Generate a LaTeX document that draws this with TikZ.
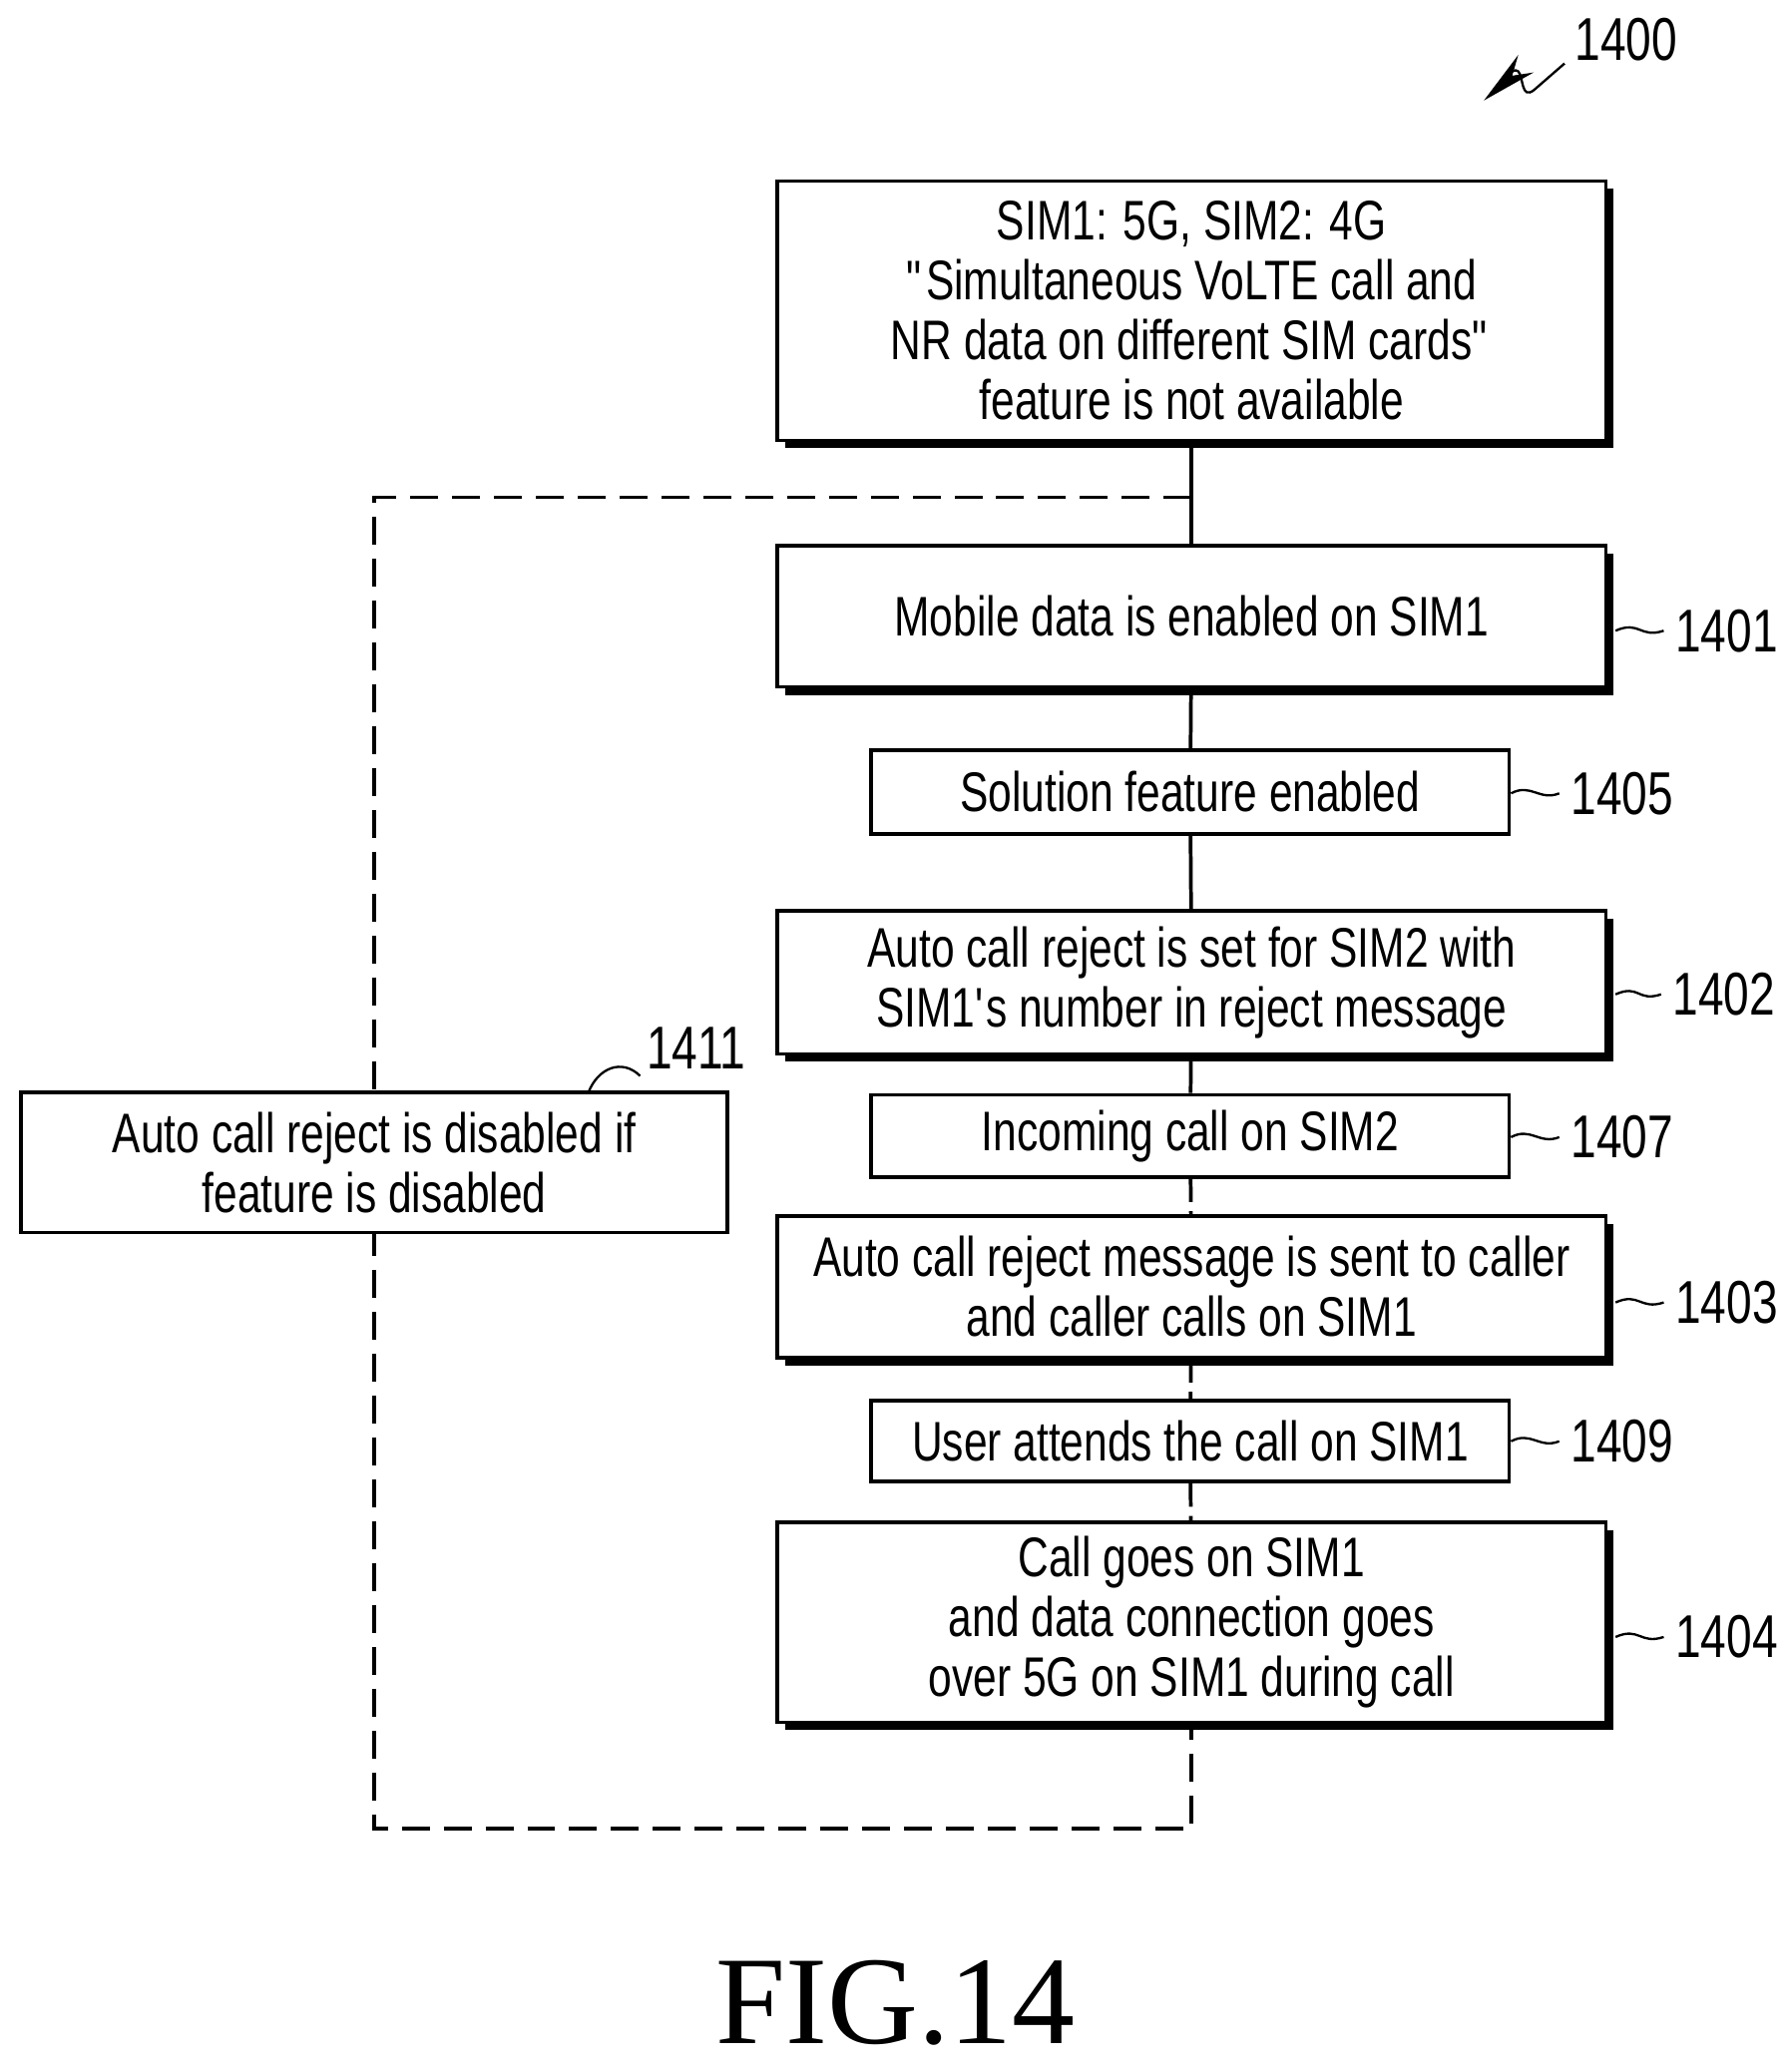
\documentclass[tikz,border=0pt]{standalone}
\usepackage{fontspec}
\setmainfont{Liberation Sans}[FakeStretch=0.76]
\newfontfamily\figfont{Liberation Serif}
\usetikzlibrary{shadows,arrows.meta}
\begin{document}
\begin{tikzpicture}[x=0.01cm,y=-0.01cm, line width=0.8pt,
    every node/.style={font=\fontsize{12}{12.9}\selectfont},
    mainbox/.style={draw, fill=white, align=center, minimum width=6.26cm, inner sep=0pt,
        drop shadow={shadow xshift=0.06cm, shadow yshift=-0.06cm, fill=black, opacity=1}},
    subbox/.style={draw, fill=white, align=center, minimum width=4.82cm, inner sep=0pt},
    tag/.style={anchor=west, inner sep=1pt},
    lead/.style={line width=0.5pt}]
    \useasboundingbox (0,0) rectangle (1350,1567);

    % Steps of the flow
    \node[mainbox, minimum height=1.96cm] (start) at (901,235) {SIM1: 5G, SIM2: 4G\\
        \textquotedbl Simultaneous VoLTE call and\\NR data on different SIM cards\textquotedbl\\feature is not available};
    \node[mainbox, minimum height=1.07cm] (s1401) at (901,466) {Mobile data is enabled on SIM1};
    \node[subbox, minimum height=0.63cm] (s1405) at (900,599) {Solution feature enabled};
    \node[mainbox, minimum height=1.08cm] (s1402) at (901,743) {Auto call reject is set for SIM2 with\\SIM1\textquotesingle s number in reject message};
    \node[subbox, minimum height=0.62cm] (s1407) at (900,859) {Incoming call on SIM2};
    \node[mainbox, minimum height=1.07cm] (s1403) at (901,973) {Auto call reject message is sent to caller\\and caller calls on SIM1};
    \node[subbox, minimum height=0.61cm] (s1409) at (900,1090) {User attends the call on SIM1};
    \node[mainbox, minimum height=1.51cm] (s1404) at (901,1227) {Call goes on SIM1\\and data connection goes\\over 5G on SIM1 during call};

    % Connectors
    \draw (start) -- (s1401);
    \draw (s1401) -- (s1405);
    \draw (s1405) -- (s1402);
    \draw (s1402) -- (s1407);
    \draw[dash pattern=on 5pt off 2pt] (s1407) -- (s1403);
    \draw[dash pattern=on 5pt off 2pt] (s1403) -- (s1409);
    \draw[dash pattern=on 5pt off 2pt] (s1409) -- (s1404);

    % Dashed loop
    \coordinate (fork) at (901,376);
    \draw[dash pattern=on 6pt off 3pt] (fork) -- (283,376) -- (283,1383) -| (s1404.south);

    \node[draw, fill=white, align=center, minimum width=5.34cm, minimum height=1.06cm, inner sep=0pt]
        (s1411) at (283,879) {Auto call reject is disabled if\\feature is disabled};

    % Reference numerals
    \node[tag] (n1401) at (1262,477) {\fontsize{13}{13}\selectfont 1401};
    \node[tag] (n1405) at (1183,600) {\fontsize{13}{13}\selectfont 1405};
    \node[tag] (n1402) at (1260,752) {\fontsize{13}{13}\selectfont 1402};
    \node[tag] (n1407) at (1183,860) {\fontsize{13}{13}\selectfont 1407};
    \node[tag] (n1403) at (1262,985) {\fontsize{13}{13}\selectfont 1403};
    \node[tag] (n1409) at (1183,1090) {\fontsize{13}{13}\selectfont 1409};
    \node[tag] (n1404) at (1262,1238) {\fontsize{13}{13}\selectfont 1404};
    \node[tag] (n1411) at (484,793) {\fontsize{13}{13}\selectfont 1411};
    \node[tag] (n1400) at (1186,30) {\fontsize{13}{13}\selectfont 1400};

    \foreach \a/\b in {s1401/n1401, s1402/n1402, s1403/n1403, s1404/n1404}
        \draw[lead] ([xshift=0.06cm]\a.east |- \b.west) .. controls +(18,-8) and +(-18,6) .. ([xshift=-0.04cm]\b.west);
    \foreach \a/\b in {s1405/n1405, s1407/n1407, s1409/n1409}
        \draw[lead] (\a.east |- \b.west) .. controls +(15,-8) and +(-15,6) .. ([xshift=-0.04cm]\b.west);
    \draw[lead] (445,826) .. controls (452,808) and (470,800) .. (n1411.south west);

    \coordinate (tip) at (1122,76);
    \draw[lead, -{Stealth[length=12pt,width=5pt]}] (1183,48) -- (1160,68)
        .. controls (1150,76) and (1152,58) .. (1148,54)
        .. controls (1143,50) and (1138,62) .. (tip);

    % Figure title
    \node[font=\figfont\fontsize{27}{27}\selectfont] (title) at (677,1515) {FIG.14};
\end{tikzpicture}
\end{document}
